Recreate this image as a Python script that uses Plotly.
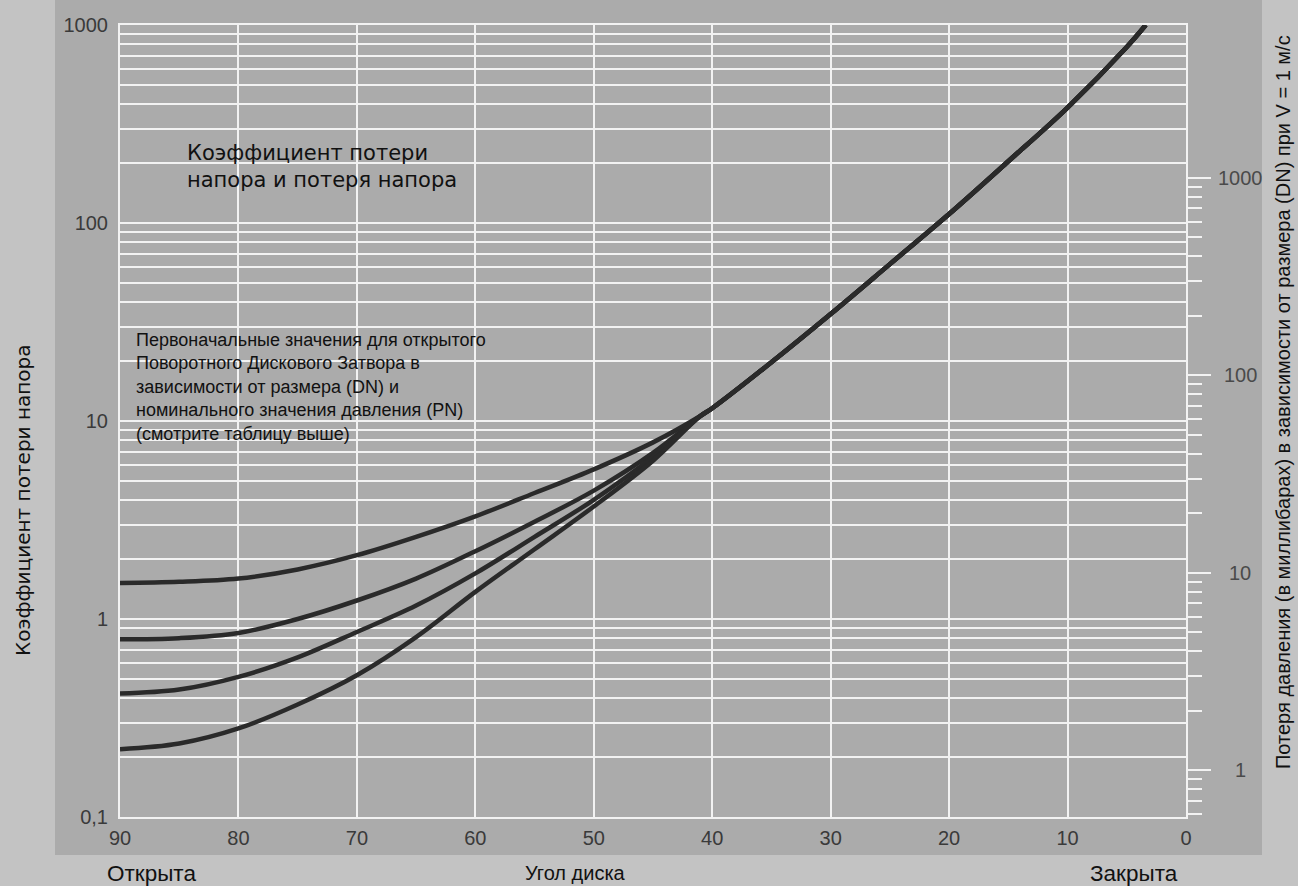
import plotly.graph_objects as go
import numpy as np

# ---- data ----
branch_angles = [90, 85, 80, 75, 70, 65, 60, 55, 50, 45, 41]
curve_1 = [1.52, 1.54, 1.60, 1.78, 2.10, 2.60, 3.30, 4.33, 5.70, 7.8, 10.6]
curve_2 = [0.79, 0.80, 0.85, 1.00, 1.24, 1.60, 2.20, 3.10, 4.45, 6.9, 10.6]
curve_3 = [0.42, 0.44, 0.51, 0.64, 0.86, 1.17, 1.70, 2.60, 4.00, 6.6, 10.6]
curve_4 = [0.22, 0.235, 0.28, 0.37, 0.52, 0.81, 1.37, 2.25, 3.70, 6.3, 10.6]
merged_angles = [41, 40, 35, 30, 25, 20, 15, 10, 5, 3.4]
merged_vals = [10.6, 11.6, 19.8, 34.7, 62, 111, 205, 383, 775, 1000]

x_ticks = [90, 80, 70, 60, 50, 40, 30, 20, 10, 0]
left_major = [0.1, 1, 10, 100, 1000]
left_major_text = ["0,1", "1", "10", "100", "1000"]
right_major = [1, 10, 100, 1000]
right_major_text = ["1", "10", "100", "1000"]

# ---- figure ----
W, H = 1298, 886
L, R, T, B = 120, 112, 25, 69
pw, ph = W - L - R, H - T - B

def px_to_paper_x(px):
    return (px - L) / pw

def px_to_paper_y(py):
    return (H - B - py) / ph

left_all = [round(m * 10 ** e, 6) for e in range(-1, 3) for m in range(1, 10)] + [1000]
left_text = [left_major_text[left_major.index(v)] if v in left_major else "" for v in left_all]

right_minor = [round(m * 10 ** e, 6) for e in range(-1, 3) for m in range(2, 10)]
right_minor = [v for v in right_minor if 0.59 < v < 1000]

line_col = "#2a2a2a"
fig = go.Figure()
for vals in [curve_1, curve_2, curve_3, curve_4]:
    fig.add_trace(go.Scatter(x=branch_angles + merged_angles[1:], y=vals + merged_vals[1:],
                             mode="lines",
                             line=dict(color=line_col, width=4.5, shape="spline", smoothing=1.0),
                             hoverinfo="skip", showlegend=False))
fig.add_trace(go.Scatter(x=[None], y=[None], yaxis="y2", mode="lines",
                         hoverinfo="skip", showlegend=False))

grid_col = "#f2f2f2"
font_main = "Liberation Sans, Arial, sans-serif"
font_wide = "DejaVu Sans, Liberation Sans, sans-serif"
tick_col = "#3a3a3a"

annotations = [
    dict(text="Коэффициент потери<br>напора и потеря напора", xref="paper", yref="paper",
         x=px_to_paper_x(185), y=px_to_paper_y(139), xanchor="left", yanchor="top",
         align="left", showarrow=False, font=dict(family=font_wide, size=21, color="#111111")),
    dict(text="Первоначальные значения для открытого<br>Поворотного Дискового Затвора в<br>"
              "зависимости от размера (DN) и<br>номинального значения давления (PN)<br>"
              "(смотрите таблицу выше)",
         xref="paper", yref="paper", x=px_to_paper_x(134), y=px_to_paper_y(328),
         xanchor="left", yanchor="top", align="left", showarrow=False,
         font=dict(family=font_main, size=18, color="#111111")),
    dict(text="Коэффициент потери напора", xref="paper", yref="paper",
         x=px_to_paper_x(23), y=px_to_paper_y(500), textangle=-90,
         xanchor="center", yanchor="middle", showarrow=False,
         font=dict(family=font_wide, size=20, color="#111111")),
    dict(text="Потеря давления (в миллибарах) в зависимости от размера (DN) при V = 1 м/с",
         xref="paper", yref="paper", x=px_to_paper_x(1283), y=px_to_paper_y(402),
         textangle=-90, xanchor="center", yanchor="middle", showarrow=False,
         font=dict(family=font_main, size=20, color="#111111")),
    dict(text="Открыта", xref="paper", yref="paper", x=px_to_paper_x(105), y=px_to_paper_y(873),
         xanchor="left", yanchor="middle", showarrow=False,
         font=dict(family=font_main, size=22.5, color="#111111")),
    dict(text="Угол диска", xref="paper", yref="paper", x=px_to_paper_x(575), y=px_to_paper_y(873),
         xanchor="center", yanchor="middle", showarrow=False,
         font=dict(family=font_main, size=20, color="#111111")),
    dict(text="Закрыта", xref="paper", yref="paper", x=px_to_paper_x(1180), y=px_to_paper_y(873),
         xanchor="right", yanchor="middle", showarrow=False,
         font=dict(family=font_main, size=22.5, color="#111111")),
]
for v, t in zip(right_major, right_major_text):
    annotations.append(dict(text=t, xref="paper", yref="y2", x=px_to_paper_x(1240), y=np.log10(v),
                            xanchor="center", yanchor="middle", showarrow=False,
                            font=dict(family=font_main, size=20, color="#4a4a4a")))

fig.update_layout(
    width=W, height=H,
    margin=dict(l=L, r=R, t=T, b=B),
    paper_bgcolor="#c3c3c3",
    plot_bgcolor="#ababab",
    font=dict(family=font_main, color=tick_col, size=20),
    xaxis=dict(range=[90, 0], tickvals=x_ticks, ticktext=[str(v) for v in x_ticks],
               showgrid=True, gridcolor=grid_col, gridwidth=2,
               showline=True, linecolor=grid_col, linewidth=2, mirror=True,
               ticks="", ticklabelstandoff=2, zeroline=False,
               tickfont=dict(size=20, color=tick_col)),
    yaxis=dict(type="log", range=[-1, 3], tickvals=left_all, ticktext=left_text,
               showgrid=True, gridcolor=grid_col, gridwidth=2,
               showline=True, linecolor=grid_col, linewidth=2, mirror=True,
               ticks="", ticklabelstandoff=6, zeroline=False,
               tickfont=dict(size=20, color=tick_col)),
    yaxis2=dict(type="log", range=[np.log10(0.58), 3.773], overlaying="y", side="right",
                tickvals=right_major, showticklabels=False,
                showgrid=False, ticks="outside", ticklen=24, tickwidth=2, tickcolor=grid_col,
                minor=dict(tickvals=right_minor, ticks="outside", ticklen=15, tickwidth=2,
                           tickcolor=grid_col, showgrid=False),
                showline=False, zeroline=False),
    shapes=[dict(type="rect", xref="paper", yref="paper", layer="below",
                 x0=px_to_paper_x(55), x1=px_to_paper_x(1262),
                 y0=px_to_paper_y(855), y1=px_to_paper_y(0),
                 fillcolor="#ababab", line=dict(width=0))],
    annotations=annotations,
)

fig.write_html("out.html", config={"displayModeBar": False},
               post_script="document.body.style.margin='0px';document.body.style.overflow='hidden';")
